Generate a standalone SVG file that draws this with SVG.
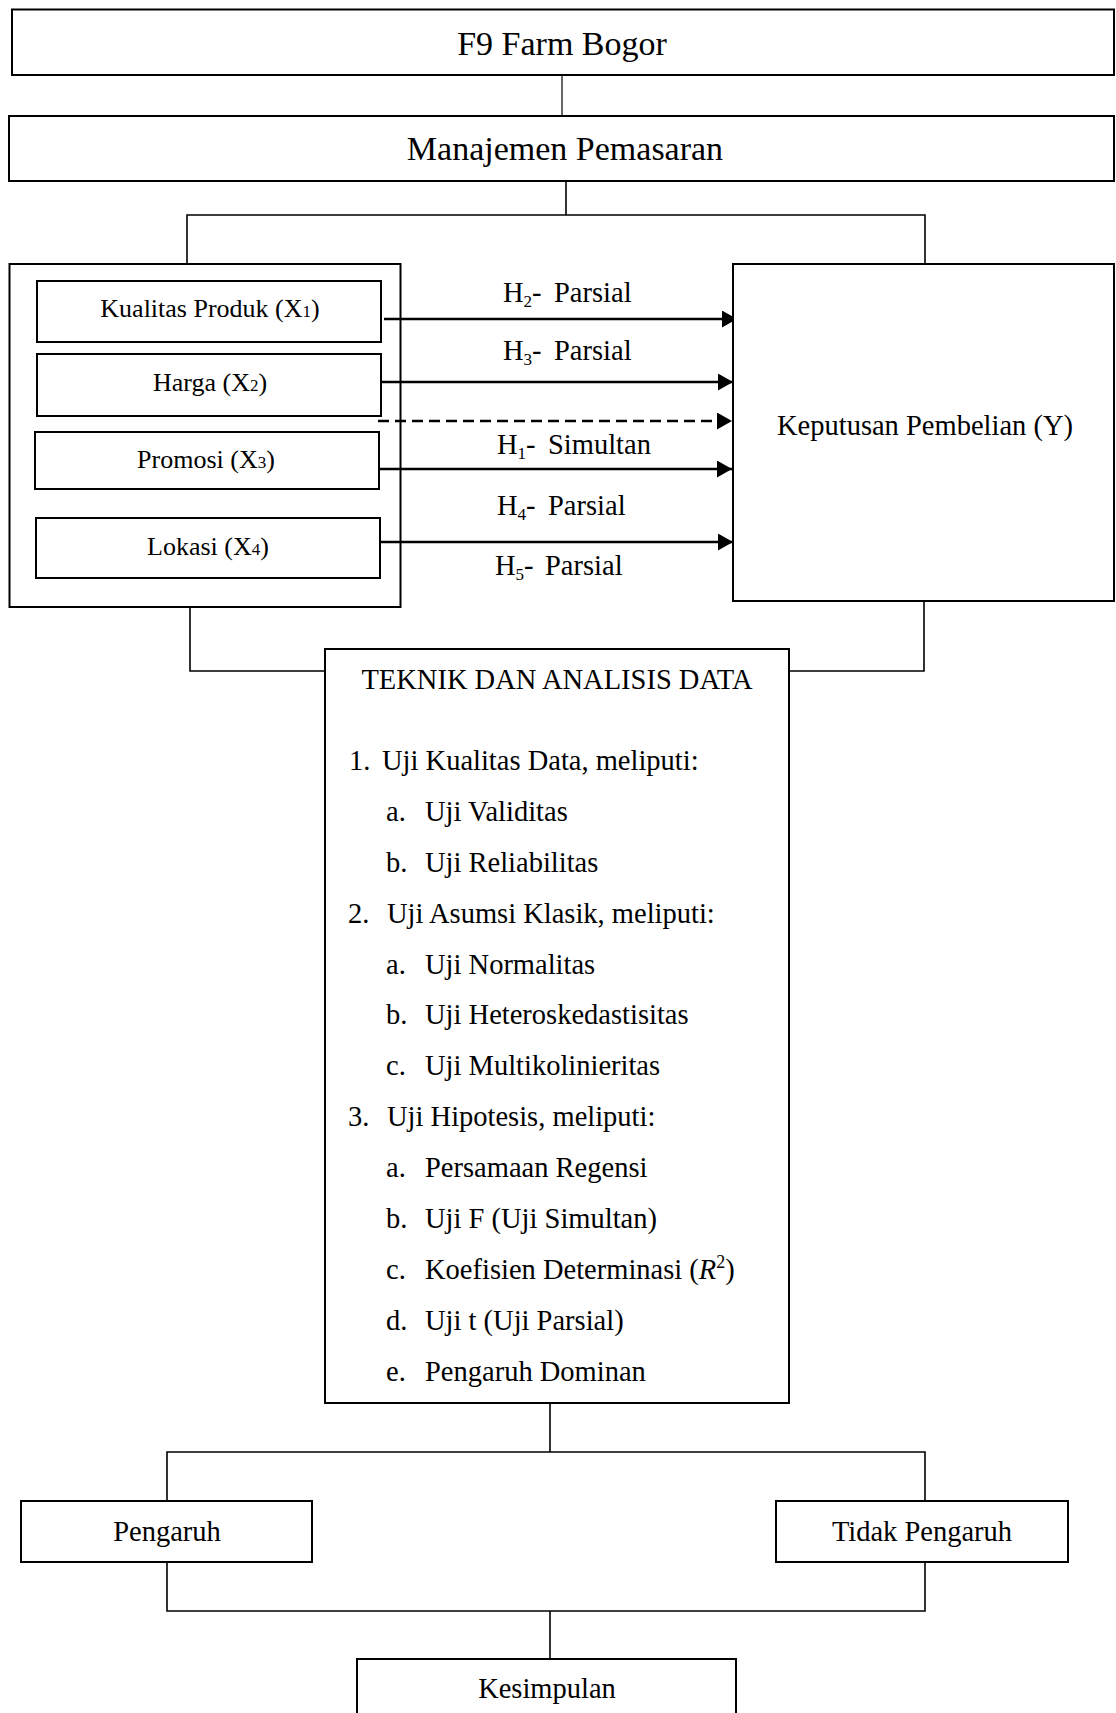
<svg xmlns="http://www.w3.org/2000/svg" width="1116" height="1713" viewBox="0 0 1116 1713">
<style>
  text { font-family: "Liberation Serif", "Times New Roman", serif; fill: #000; }
  .box { fill: #fff; stroke: #000; stroke-width: 2; }
  .t34 { font-size: 34px; }
  .t28 { font-size: 28.5px; }
  .t26 { font-size: 26px; }
  .sub { font-size: 17px; }
  .sup { font-size: 18px; }
  .line { fill: none; stroke: #000; stroke-width: 1.6; }
  .thin { fill: none; stroke: #000; stroke-width: 1.2; }
  .arrow { fill: none; stroke: #000; stroke-width: 2.6; marker-end: url(#ah); }
  .dash { fill: none; stroke: #000; stroke-width: 2.6; stroke-dasharray: 11 6; marker-end: url(#ah); }
</style>
<defs>
  <marker id="ah" markerUnits="userSpaceOnUse" markerWidth="16" markerHeight="18" refX="15" refY="8.5" orient="auto">
    <path d="M0,0 L15,8.5 L0,17 z" fill="#000"/>
  </marker>
</defs>
<rect width="1116" height="1713" fill="#fff"/>

<g id="connectors">
  <path class="thin" d="M562,75 V116"/>
  <path class="line" d="M566,181 V215"/>
  <path class="line" d="M187,264 V215 H925 V266"/>
  <path class="line" d="M190,607 V671 H325"/>
  <path class="line" d="M924,601 V671 H789"/>
  <path class="line" d="M550,1403 V1452"/>
  <path class="line" d="M167,1501 V1452 H925 V1501"/>
  <path class="line" d="M167,1562 V1611 H925 V1562"/>
  <path class="line" d="M550,1611 V1659"/>
  <path class="arrow" d="M384,319 H737"/>
  <path class="arrow" d="M381,382 H733"/>
  <path class="dash" d="M378,421 H732"/>
  <path class="arrow" d="M379,469 H732"/>
  <path class="arrow" d="M380,542 H733"/>
  <g id="labels">
    <text class="t28" x="503" y="302">H<tspan class="sub" dy="5">2</tspan><tspan dy="-5">-</tspan><tspan x="554">Parsial</tspan></text>
    <text class="t28" x="503" y="360">H<tspan class="sub" dy="5">3</tspan><tspan dy="-5">-</tspan><tspan x="554">Parsial</tspan></text>
    <text class="t28" x="497" y="454">H<tspan class="sub" dy="5">1</tspan><tspan dy="-5">-</tspan><tspan x="548">Simultan</tspan></text>
    <text class="t28" x="497" y="515">H<tspan class="sub" dy="5">4</tspan><tspan dy="-5">-</tspan><tspan x="548">Parsial</tspan></text>
    <text class="t28" x="495" y="575">H<tspan class="sub" dy="5">5</tspan><tspan dy="-5">-</tspan><tspan x="545">Parsial</tspan></text>
  </g>
</g>

<g id="f9">
  <rect class="box" x="12" y="9.5" width="1102" height="65.5"/>
  <text class="t34" x="562" y="55" text-anchor="middle">F9 Farm Bogor</text>
</g>
<g id="manajemen">
  <rect class="box" x="9" y="116" width="1105" height="65"/>
  <text class="t34" x="565" y="160" text-anchor="middle">Manajemen Pemasaran</text>
</g>

<g id="variabel">
  <rect class="box" x="9.5" y="264" width="391" height="343" style="fill:none"/>
</g>
<g id="x1">
  <rect class="box" x="37" y="281" width="344" height="61"/>
  <text class="t26" x="210" y="317" text-anchor="middle">Kualitas Produk (X<tspan class="sub">1</tspan>)</text>
</g>
<g id="x2">
  <rect class="box" x="37" y="354" width="344" height="62"/>
  <text class="t26" x="210" y="391" text-anchor="middle">Harga (X<tspan class="sub">2</tspan>)</text>
</g>
<g id="x3">
  <rect class="box" x="35" y="432" width="344" height="57"/>
  <text class="t26" x="206" y="468" text-anchor="middle">Promosi (X<tspan class="sub">3</tspan>)</text>
</g>
<g id="x4">
  <rect class="box" x="36" y="518" width="344" height="60"/>
  <text class="t26" x="208" y="555" text-anchor="middle">Lokasi (X<tspan class="sub">4</tspan>)</text>
</g>

<g id="keputusan">
  <rect class="box" x="733" y="264" width="381" height="337"/>
  <text class="t28" x="925" y="435" text-anchor="middle">Keputusan Pembelian (Y)</text>
</g>

<g id="teknik">
  <rect class="box" x="325" y="649" width="464" height="754"/>
  <text class="t28" x="557" y="689" text-anchor="middle">TEKNIK DAN ANALISIS DATA</text>
  <g class="t28">
    <text x="349" y="770">1.</text><text x="382" y="770">Uji Kualitas Data, meliputi:</text>
    <text x="386" y="821">a.</text><text x="425" y="821">Uji Validitas</text>
    <text x="386" y="872">b.</text><text x="425" y="872">Uji Reliabilitas</text>
    <text x="348" y="923">2.</text><text x="387" y="923">Uji Asumsi Klasik, meliputi:</text>
    <text x="386" y="974">a.</text><text x="425" y="974">Uji Normalitas</text>
    <text x="386" y="1024">b.</text><text x="425" y="1024">Uji Heteroskedastisitas</text>
    <text x="386" y="1075">c.</text><text x="425" y="1075">Uji Multikolinieritas</text>
    <text x="348" y="1126">3.</text><text x="387" y="1126">Uji Hipotesis, meliputi:</text>
    <text x="386" y="1177">a.</text><text x="425" y="1177">Persamaan Regensi</text>
    <text x="386" y="1228">b.</text><text x="425" y="1228">Uji F (Uji Simultan)</text>
    <text x="386" y="1279">c.</text><text x="425" y="1279">Koefisien Determinasi (<tspan font-style="italic">R</tspan><tspan class="sup" dy="-11">2</tspan><tspan dy="11">)</tspan></text>
    <text x="386" y="1330">d.</text><text x="425" y="1330">Uji t (Uji Parsial)</text>
    <text x="386" y="1381">e.</text><text x="425" y="1381">Pengaruh Dominan</text>
  </g>
</g>

<g id="pengaruh">
  <rect class="box" x="21" y="1501" width="291" height="61"/>
  <text class="t28" x="167" y="1541" text-anchor="middle">Pengaruh</text>
</g>
<g id="tidak-pengaruh">
  <rect class="box" x="776" y="1501" width="292" height="61"/>
  <text class="t28" x="922" y="1541" text-anchor="middle">Tidak Pengaruh</text>
</g>
<g id="kesimpulan">
  <rect class="box" x="357" y="1659" width="379" height="70"/>
  <text class="t28" x="547" y="1698" text-anchor="middle">Kesimpulan</text>
</g>
</svg>
